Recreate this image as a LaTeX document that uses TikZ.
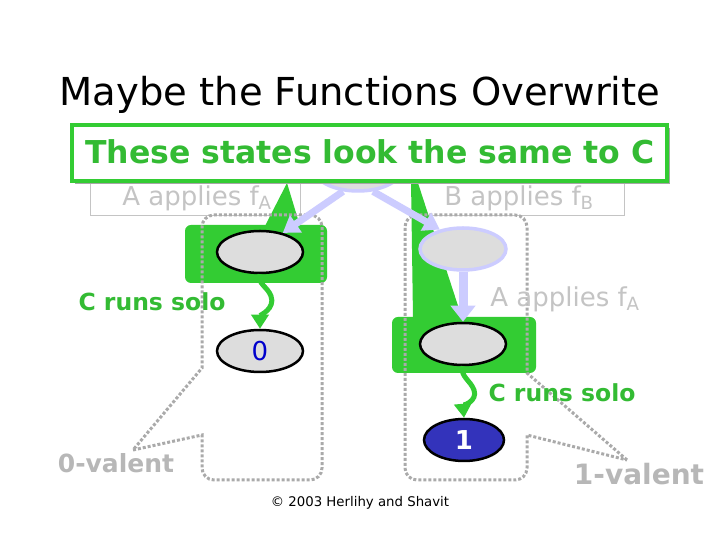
\documentclass[tikz,border=0pt]{standalone}
\usepackage{fontspec}
\setmainfont{DejaVu Sans}
\usetikzlibrary{shapes.geometric,arrows.meta}
\definecolor{grn}{HTML}{33CC33}
\definecolor{grntext}{HTML}{33BB33}
\definecolor{lav}{HTML}{CCCCFF}
\definecolor{stategray}{HTML}{DDDDDD}
\definecolor{dotgray}{HTML}{AAAAAA}
\definecolor{labgray}{HTML}{C4C4C4}
\definecolor{onefill}{HTML}{3333BB}
\begin{document}
\begin{tikzpicture}[x=1pt,y=1pt,
	state/.style={ellipse,draw=black,line width=2.5pt,fill=stategray,minimum width=86pt,minimum height=42pt,inner sep=0pt},
	lavstate/.style={state,draw=lav,line width=3.5pt},
	lavarrow/.style={draw=lav,line width=7pt,-{Triangle[width=20pt,length=16pt]}},
	solo/.style={draw=grn,line width=5pt,-{Triangle[width=17pt,length=14pt]}},
	valent/.style={draw=dotgray,line width=3pt,dash pattern=on 3pt off 2pt},
	fadedlabel/.style={text=labgray,font=\fontsize{26}{26}\selectfont},
	greenlabel/.style={text=grntext,font=\bfseries\fontsize{23.5}{23.5}\selectfont},
	valentlabel/.style={text=dotgray!85,font=\bfseries\fontsize{25}{25}\selectfont}]
	\fill[white] (0,0) rectangle (720,540);
	\useasboundingbox (0,0) rectangle (720,540);
	\node (title) at (360,445) {\fontsize{38.5}{38.5}\selectfont Maybe the Functions Overwrite};
	% who applies first
	\draw[labgray,line width=1pt] (90,324) rectangle (300,362);
	\draw[labgray,line width=1pt] (412,324) rectangle (624,362);
	\node[fadedlabel] (applyA) at (197,342) {A applies f\textsubscript{A}};
	\node[fadedlabel] (applyB) at (519,342) {B applies f\textsubscript{B}};
	\node[lavstate] (s0) at (358,370) {};
	% green wedges and boxes
	\fill[grn] (287,357)--(265,314)--(300,314)--cycle;
	\fill[grn] (411,360)--(417,360)--(462,222)--(413,222)--cycle;
	\fill[grn,rounded corners=6pt] (185,257) rectangle (327,315);
	\fill[grn,rounded corners=6pt] (392,167) rectangle (536,223);
	% valency outlines
	\draw[valent] (133,90)--(202,105) [rounded corners=12pt]--(202,60)--(322,60)--(322,325)--(202,325) [sharp corners]--(202,172)--cycle;
	\draw[valent] (627,80)--(527,167) [rounded corners=12pt]--(527,325)--(405,325)--(405,60)--(527,60) [sharp corners]--(527,105)--cycle;
	% states
	\node[state] (sA) at (260,288) {};
	\node[state] (zero) at (260,189) {\fontsize{26}{26}\selectfont\color{blue!80!black}0};
	\node[lavstate] (sB) at (463,291) {};
	\node[state] (sBA) at (463,196) {};
	\node[state,fill=onefill,minimum width=80pt] (one) at (464,100) {\bfseries\fontsize{26}{26}\selectfont\color{white}1};
	\draw[lavarrow] (s0.235)--(sA.40);
	\draw[lavarrow] (s0.-55)--(sB.140);
	\draw[lavarrow,line width=9pt,-{Triangle[width=24pt,length=16pt]}] (sB.south)--(sBA.north);
	\node[fadedlabel] (applyA2) at (565,241) {A applies f\textsubscript{A}};
	% C runs solo
	\coordinate (bendA) at (271,244);
	\coordinate (bendB) at (474,150);
	\draw[solo] (sA.south) to[out=-110,in=110] (bendA) to[out=-70,in=90] (zero.north);
	\draw[solo] (sBA.south) to[out=-110,in=110] (bendB) to[out=-70,in=95] (one.north);
	\node[greenlabel] (soloA) at (152,238) {C runs solo};
	\node[greenlabel] (soloB) at (562,147) {C runs solo};
	\node[valentlabel] (val0) at (116,77) {0-valent};
	\node[valentlabel,font=\bfseries\fontsize{28}{28}\selectfont] (val1) at (639,66) {1-valent};
	% header
	\fill[gray!70] (75,356) rectangle (670,412);
	\draw[grn,line width=4pt,fill=white] (72,359) rectangle (667,415);
	\node[text=grntext,font=\bfseries\fontsize{31.5}{31.5}\selectfont] (same) at (370,388) {These states look the same to C};
	\node (copy) at (360,37) {\fontsize{13.3}{13.3}\selectfont © 2003 Herlihy and Shavit};
\end{tikzpicture}
\end{document}
